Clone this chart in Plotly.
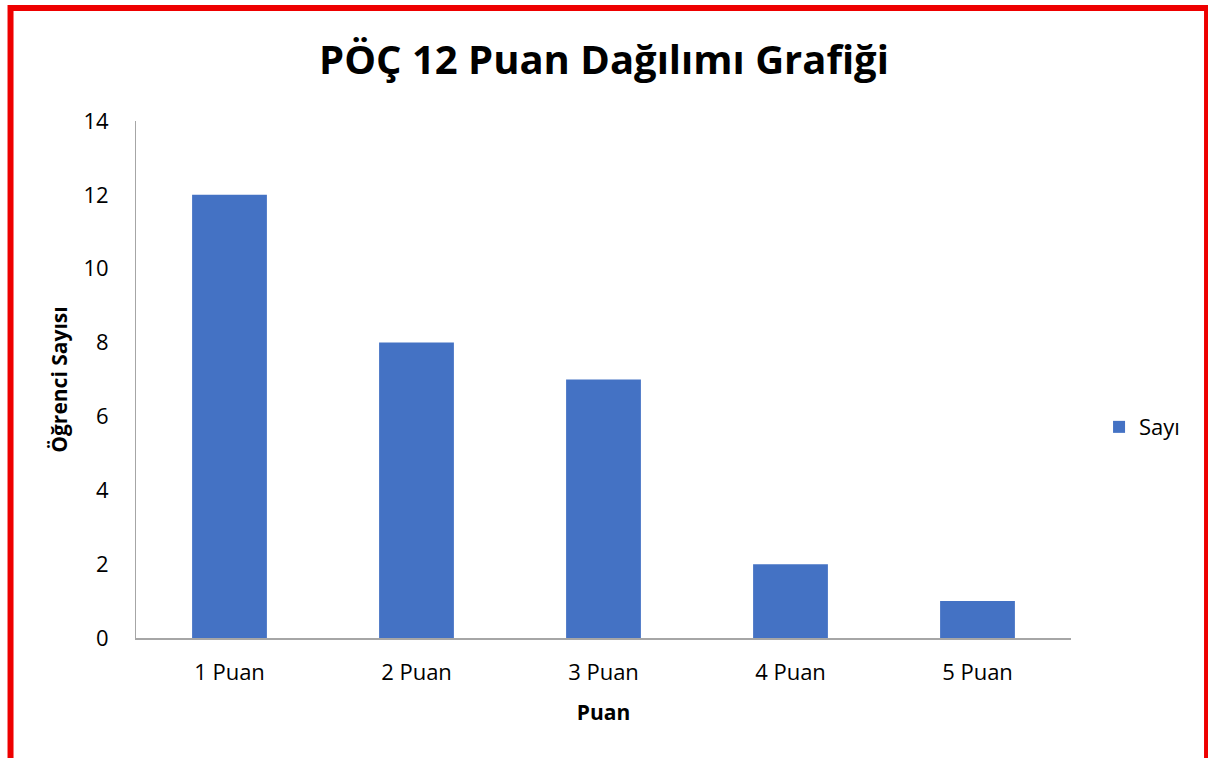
import plotly.graph_objects as go

# Chart data
categories = ["1 Puan", "2 Puan", "3 Puan", "4 Puan", "5 Puan"]
counts = [12, 8, 7, 2, 1]
y_ticks = [0, 2, 4, 6, 8, 10, 12, 14]

FONT = "Open Sans"

fig = go.Figure()
fig.add_trace(go.Bar(
    x=categories,
    y=counts,
    name="Sayı",
    marker=dict(color="#4472C4", line=dict(width=0)),
))

fig.update_layout(
    width=1208,
    height=758,
    margin=dict(l=136, r=137, t=121, b=120),
    paper_bgcolor="white",
    plot_bgcolor="white",
    bargap=0.6,
    showlegend=True,
    font=dict(family=FONT, size=22, color="#000000"),
    title=dict(
        text="<b>PÖÇ 12 Puan Dağılımı Grafiği</b>",
        x=0.5, xanchor="center",
        y=0.921, yanchor="middle",
        font=dict(family=FONT, size=40, color="#000000"),
    ),
    legend=dict(
        x=1.03, xanchor="left",
        y=0.408, yanchor="middle",
        font=dict(family=FONT, size=22),
        itemwidth=30,
    ),
    xaxis=dict(
        title=dict(text="<b>Puan</b>", font=dict(family=FONT, size=21), standoff=20),
        showline=True, linecolor="#A6A6A6", linewidth=2,
        showgrid=False, ticks="", ticklabelstandoff=14,
    ),
    yaxis=dict(
        title=dict(text="<b>Öğrenci Sayısı</b>", font=dict(family=FONT, size=21), standoff=10),
        range=[0, 14], tickvals=y_ticks,
        showline=True, linecolor="#A6A6A6", linewidth=1,
        showgrid=False, zeroline=False, ticks="", ticklabelstandoff=22,
    ),
)

# red frame around the chart
fig.add_shape(
    type="rect", xref="paper", yref="paper",
    x0=-0.1342, x1=1.1455, y0=-0.4, y1=1.2186,
    line=dict(color="#EE0000", width=6),
    fillcolor="rgba(0,0,0,0)",
    layer="above",
)

# drop the default page margin so the figure fills the window
fig.write_html(
    "out.html",
    config={"displayModeBar": False},
    post_script="document.body.style.margin='0';document.body.style.overflow='hidden';",
)
